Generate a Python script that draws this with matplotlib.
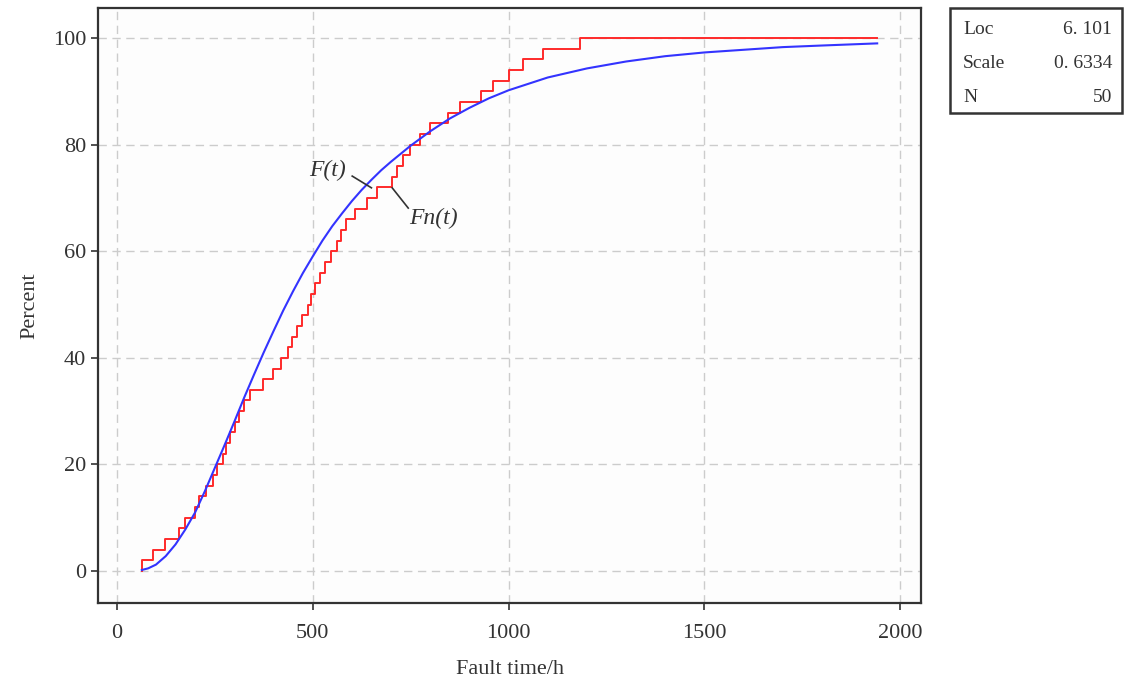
"""Lognormal fit vs empirical CDF of fault times."""

import matplotlib

matplotlib.use("Agg")
import matplotlib.pyplot as plt
from matplotlib.patches import Rectangle

# empirical failure times (h), one per 2 % step
fault_times = [64, 92, 122, 160, 173, 199, 211, 229, 245, 255,
               270, 280, 290, 301, 313, 324, 341, 372, 400, 418,
               438, 448, 459, 474, 487, 497, 507, 520, 532, 548,
               563, 573, 586, 609, 639, 665, 703, 716, 731, 749,
               775, 800, 846, 876, 930, 961, 1001, 1037, 1088, 1182]
end_time = 1941

# fitted CDF
fit_t = [64, 80, 100, 125, 150, 175, 200, 225, 250, 275, 300, 325, 350,
         375, 400, 425, 450, 475, 500, 525, 550, 575, 600, 625, 650, 675,
         700, 750, 800, 850, 900, 950, 1000, 1100, 1200, 1300, 1400,
         1500, 1600, 1700, 1800, 1941]
fit_pct = [0.2, 0.5, 1.2, 2.8, 5.0, 7.8, 11.0, 15.0, 19.3, 23.6, 28.0,
           32.5, 36.8, 41.0, 45.0, 48.9, 52.5, 55.9, 59.0, 62.0, 64.7,
           67.1, 69.4, 71.5, 73.4, 75.2, 76.8, 79.8, 82.5, 84.9, 86.9,
           88.7, 90.2, 92.6, 94.3, 95.6, 96.6, 97.3, 97.8, 98.3, 98.6, 99.0]

stats_names = ["Loc", "Scale", "N"]
stats_values = ["6. 101", "0. 6334", "50"]

serif = ["Liberation Serif", "DejaVu Serif"]
plt.rcParams["font.family"] = serif

n = len(fault_times)
step_x = [fault_times[0]] + fault_times + [end_time]
step_y = [0.0] + [100.0 * (i + 1) / n for i in range(n)] + [100.0]

fig = plt.figure(figsize=(11.26, 6.84), dpi=100)
ax = fig.add_axes([0.087, 0.1184, 0.731, 0.8696])
ax.set_facecolor("#fdfdfd")

ax.plot(step_x, step_y, drawstyle="steps-post", color="#ff2a2a", lw=1.4)
ax.plot(fit_t, fit_pct, color="#3333ff", lw=1.5)

ax.set_xlim(-48, 2053)
ax.set_ylim(-6, 105.6)
ax.set_xticks([0, 500, 1000, 1500, 2000])
ax.set_yticks([0, 20, 40, 60, 80, 100])
ax.grid(True, color="#cccccc", ls=(0, (6, 4)), lw=1.0)
ax.tick_params(labelsize=16, colors="#333333", length=5, width=1.2)
ax.tick_params(axis="x", pad=10)
for side in ax.spines.values():
    side.set_color("#333333")
    side.set_linewidth(1.6)

ax.set_xlabel("Fault time/h", fontsize=16, color="#333333", labelpad=12)
ax.set_ylabel("Percent", fontsize=16, color="#333333", labelpad=10)

# curve labels with leader lines
ax.plot([601, 650], [74.1, 71.9], color="#333333", lw=1.2)
ax.text(538, 75.2, "F(t)", style="italic", fontsize=17, color="#333333",
        ha="center", va="center")
ax.plot([703, 744], [71.9, 68.1], color="#333333", lw=1.2)
ax.text(808, 66.2, "Fn(t)", style="italic", fontsize=17, color="#333333",
        ha="center", va="center")

# stats box to the right
fig.patches.append(Rectangle((950 / 1126, 1 - 113 / 684), 172 / 1126, 105 / 684,
                             transform=fig.transFigure, fill=False,
                             edgecolor="#333333", lw=1.8))
for i, (name, val) in enumerate(zip(stats_names, stats_values)):
    y = 1 - (30 + i * 33.5) / 684
    fig.text(963 / 1126, y, name, fontsize=14, color="#333333", va="center")
    fig.text(1112 / 1126, y, val, fontsize=14, color="#333333", va="center", ha="right")

fig.savefig("out.png", dpi=100)
